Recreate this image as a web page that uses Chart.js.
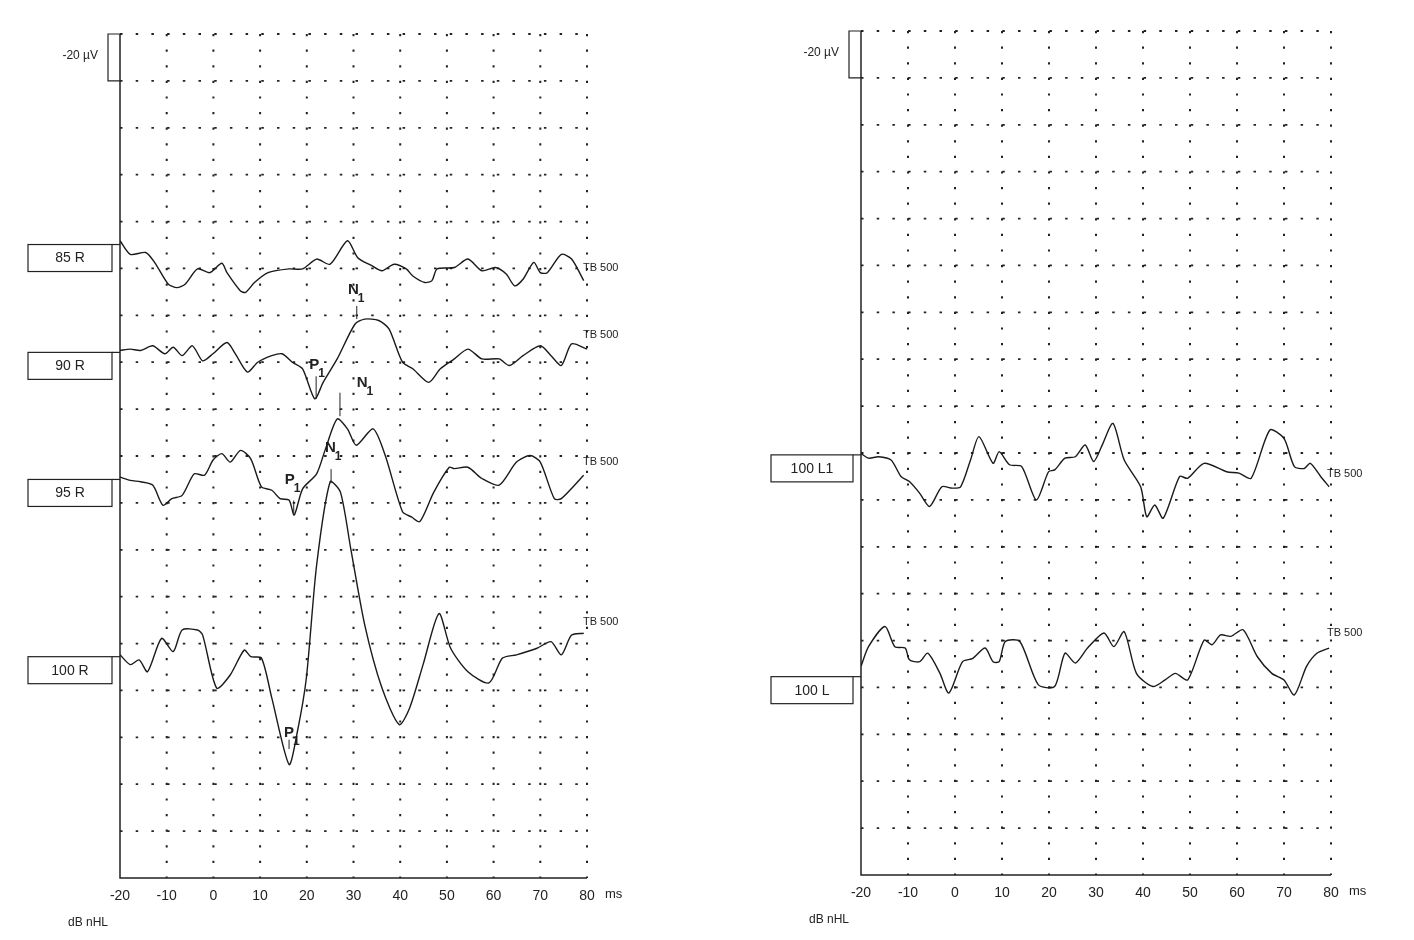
<!DOCTYPE html>
<html>
<head>
<meta charset="utf-8">
<script src="https://cdn.jsdelivr.net/npm/chart.js@4.4.1/dist/chart.umd.min.js"></script>
<style>
  html, body { margin: 0; padding: 0; background: #fff; }
  #wrap { display: flex; width: 1414px; height: 940px; }
  .box { position: relative; width: 707px; height: 940px; }
</style>
</head>
<body>
<div id="wrap">
  <div class="box"><canvas id="left"></canvas></div>
  <div class="box"><canvas id="right"></canvas></div>
</div>
<script>
// x in ms, y in grid rows (0 = top line, 18 = bottom axis; one row = 20 µV)
const xTicks = [-20, -10, 0, 10, 20, 30, 40, 50, 60, 70, 80];

const t85 = [-20,-17.8,-14.5,-12.6,-9.7,-7.8,-6.0,-3.4,-0.8,1.8,2.9,5.8,6.9,8.8,11.7,16.2,19.1,22.1,25.0,28.7,30.9,33.9,36.1,38.7,41.3,42.7,45.3,46.8,47.9,51.6,54.5,57.5,60.4,62.7,64.5,66.3,68.6,70.0,71.5,74.5,76.7,79.3];
const r85 = [4.41,4.70,4.66,4.87,5.33,5.41,5.33,5.01,5.09,4.89,5.09,5.48,5.51,5.30,5.09,5.01,5.01,4.80,4.91,4.41,4.77,4.94,5.05,4.91,5.01,5.16,5.30,5.26,5.01,4.98,4.80,5.05,4.98,5.12,5.37,5.23,4.87,5.09,5.09,4.70,4.80,5.26];

const t90 = [-20,-17.8,-15.6,-13.0,-10.4,-8.6,-6.7,-4.5,-2.3,-0.1,2.9,4.7,7.3,9.5,12.5,14.7,16.9,19.1,21.7,23.5,26.5,30.3,32.4,35.4,37.6,40.5,42.7,46.1,48.6,51.6,54.5,57.5,61.2,63.4,66.3,70.0,72.3,74.5,76.7,80];
const r90 = [6.75,6.72,6.75,6.65,6.82,6.68,6.86,6.65,6.97,6.82,6.58,6.82,7.21,7.00,6.86,6.82,7.00,7.14,7.78,7.43,6.93,6.19,6.08,6.11,6.29,7.00,7.14,7.43,7.14,6.93,6.72,6.93,6.93,7.07,6.86,6.65,6.86,7.07,6.61,6.72];

const t95 = [-20,-17.8,-15.6,-13.0,-10.8,-8.9,-6.7,-4.1,-1.9,-0.1,1.8,3.6,5.8,8.0,10.3,12.5,14.3,16.2,17.3,19.1,22.1,23.9,26.5,28.7,30.6,34.2,36.8,40.5,42.4,44.2,47.2,50.5,51.6,54.5,57.5,61.2,64.9,67.8,70.0,73.0,74.5,79.3];
const r95 = [9.45,9.52,9.55,9.62,10.05,9.91,9.84,9.38,9.41,9.09,8.95,9.13,8.88,9.06,9.66,9.73,9.91,9.94,10.26,9.70,9.38,8.88,8.21,8.42,8.77,8.42,8.99,10.19,10.30,10.40,9.77,9.24,9.27,9.24,9.48,9.62,9.13,8.99,9.13,9.91,9.91,9.41];

const t100 = [-20,-17.8,-15.9,-14.1,-11.1,-8.6,-6.7,-3.4,-2.3,0.7,3.6,6.6,8.0,10.3,12.5,16.2,18.0,19.9,22.1,25.0,27.2,29.4,32.4,36.1,39.8,42.0,44.9,48.3,50.8,54.5,59.0,61.9,64.9,69.3,72.3,74.5,76.7,79.3];
const r100 = [13.24,13.45,13.35,13.60,12.89,13.17,12.71,12.71,12.82,13.95,13.67,13.14,13.28,13.31,14.16,15.58,14.87,13.74,11.33,9.55,9.77,10.97,12.60,13.95,14.73,14.38,13.45,12.36,13.10,13.60,13.84,13.31,13.24,13.10,12.96,13.24,12.82,12.78];

const tL1 = [-20,-18.4,-16.3,-13.6,-11.5,-9.7,-7.5,-5.4,-2.8,-0.6,1.2,3.3,5.1,8.1,9.4,11.6,14.2,17.3,19.9,21.2,23.4,25.6,27.7,29.5,31.2,33.6,36.0,39.5,40.8,42.5,44.3,47.8,49.5,53.0,57.8,60.4,63.0,67.0,70.0,72.2,74.3,75.6,77.8,79.6];
const rL1 = [9.01,9.11,9.08,9.15,9.50,9.61,9.86,10.14,9.72,9.75,9.72,9.15,8.65,9.22,8.97,9.25,9.29,10.0,9.40,9.36,9.11,9.08,8.83,9.18,8.86,8.37,9.15,9.72,10.36,10.11,10.39,9.50,9.54,9.22,9.40,9.43,9.54,8.51,8.69,9.29,9.33,9.22,9.50,9.72];

const tL = [-20,-18.4,-14.9,-12.8,-10.6,-9.7,-7.5,-5.8,-3.2,-1.3,1.6,3.8,6.4,8.1,9.4,10.7,13.8,17.7,21.2,23.4,25.6,28.2,31.7,33.8,36.0,38.6,42.1,44.7,46.9,49.5,53.0,54.7,56.5,58.7,61.3,64.3,67.4,70.0,72.2,74.8,77.0,79.6];
const rL = [13.55,13.13,12.70,13.13,13.16,13.41,13.45,13.27,13.70,14.12,13.45,13.38,13.16,13.45,13.45,13.02,13.02,13.94,13.98,13.27,13.48,13.16,12.84,13.13,12.81,13.70,13.98,13.84,13.70,13.84,12.99,13.09,12.88,12.91,12.77,13.34,13.70,13.84,14.16,13.55,13.27,13.16];

// channel labels: text, box top row, TB 500 row
const leftNames = ['85 R', '90 R', '95 R', '100 R'];
const leftBoxRows = [4.49, 6.79, 9.50, 13.28];
const leftTbRows = [4.98, 6.41, 9.12, 12.53];
const rightNames = ['100 L1', '100 L'];
const rightBoxRows = [9.04, 13.77];
const rightTbRows = [9.45, 12.84];

// peak markers: letter, x ms, row of label, tick x ms, tick row from, to
const leftPeaks = [
  ['N', 28.8, 5.45, 30.7, 5.80, 6.08],
  ['P', 20.5, 7.05, 22.0, 7.30, 7.78],
  ['N', 30.7, 7.43, 27.1, 7.65, 8.15],
  ['P', 15.3, 9.50, 17.2, 9.95, 10.22],
  ['N', 23.9, 8.82, 25.2, 9.28, 9.58],
  ['P', 15.1, 14.90, 16.2, 15.05, 15.25]
];

const FONT = '"Liberation Sans", Arial, sans-serif';
const pts = (t, r) => t.map((x, i) => ({ x, y: r[i] }));
const trace = (t, r) => ({ data: pts(t, r), borderColor: '#1a1a1a', borderWidth: 1.4, pointRadius: 0, tension: 0.25, fill: false });

const panelPlugin = (cfg) => ({
  id: 'panel',
  beforeDatasetsDraw(chart) {
    const { ctx, chartArea: a, scales: { x, y } } = chart;
    ctx.save();
    ctx.strokeStyle = '#222';
    ctx.fillStyle = '#222';
    // dotted grid
    ctx.lineWidth = 1.8;
    ctx.setLineDash([2.5, 13.2]);
    for (let r = 0; r <= 17; r++) {
      const py = y.getPixelForValue(r);
      ctx.beginPath(); ctx.moveTo(a.left, py); ctx.lineTo(a.right, py); ctx.stroke();
    }
    ctx.lineWidth = 2;
    ctx.setLineDash([2.2, 13.4]);
    for (let v = -10; v <= 80; v += 10) {
      const px = x.getPixelForValue(v);
      ctx.beginPath(); ctx.moveTo(px, a.top); ctx.lineTo(px, a.bottom); ctx.stroke();
    }
    ctx.setLineDash([]);
    ctx.lineWidth = 1.5;
    ctx.beginPath();
    ctx.moveTo(a.left, a.top); ctx.lineTo(a.left, a.bottom); ctx.lineTo(a.right, a.bottom);
    ctx.stroke();
    // -20 µV bracket
    const y0 = y.getPixelForValue(0), y1 = y.getPixelForValue(1);
    ctx.lineWidth = 1.2;
    ctx.beginPath();
    ctx.moveTo(a.left, y0); ctx.lineTo(a.left - 12, y0); ctx.lineTo(a.left - 12, y1); ctx.lineTo(a.left, y1);
    ctx.stroke();
    ctx.font = '12px ' + FONT;
    ctx.textAlign = 'right'; ctx.textBaseline = 'middle';
    ctx.fillText('-20 µV', a.left - 22, (y0 + y1) / 2 - 2);
    // x tick labels
    ctx.font = '14px ' + FONT;
    ctx.textAlign = 'center'; ctx.textBaseline = 'top';
    xTicks.forEach(v => ctx.fillText(String(v), x.getPixelForValue(v), a.bottom + 11));
    ctx.font = '13px ' + FONT;
    ctx.textAlign = 'left';
    ctx.fillText('ms', a.right + 18, a.bottom + 10);
    ctx.font = '12px ' + FONT;
    ctx.fillText('dB nHL', a.left - 52, a.bottom + 39);
    // channel boxes
    cfg.names.forEach((n, i) => {
      const top = y.getPixelForValue(cfg.boxRows[i]);
      const bx = a.left - cfg.boxGap - cfg.boxW;
      ctx.lineWidth = 1.2;
      ctx.strokeRect(bx, top, cfg.boxW, 27);
      ctx.beginPath(); ctx.moveTo(bx + cfg.boxW, top); ctx.lineTo(a.left, top); ctx.stroke();
      ctx.font = '14px ' + FONT;
      ctx.textAlign = 'center'; ctx.textBaseline = 'middle';
      ctx.fillText(n, bx + cfg.boxW / 2, top + 14);
      ctx.textAlign = 'left';
      ctx.font = '11px ' + FONT;
      ctx.fillText('TB 500', a.right - 4, y.getPixelForValue(cfg.tbRows[i]));
    });
    // peak labels
    cfg.peaks.forEach(p => {
      const lx = x.getPixelForValue(p[1]), ly = y.getPixelForValue(p[2]);
      ctx.textAlign = 'left'; ctx.textBaseline = 'middle';
      ctx.font = 'bold 15px ' + FONT;
      ctx.fillText(p[0], lx, ly);
      const w = ctx.measureText(p[0]).width;
      ctx.font = 'bold 12px ' + FONT;
      ctx.fillText('1', lx + w - 1, ly + 9);
      const tx = x.getPixelForValue(p[3]);
      ctx.lineWidth = 1;
      ctx.beginPath(); ctx.moveTo(tx, y.getPixelForValue(p[4])); ctx.lineTo(tx, y.getPixelForValue(p[5])); ctx.stroke();
    });
    ctx.restore();
  }
});

function makePanel(id, datasets, padding, cfg) {
  return new Chart(document.getElementById(id), {
    type: 'line',
    data: { datasets },
    options: {
      responsive: true,
      maintainAspectRatio: false,
      animation: false,
      layout: { padding },
      plugins: { legend: { display: false }, tooltip: { enabled: false } },
      scales: {
        x: { type: 'linear', min: -20, max: 80, display: false },
        y: { type: 'linear', min: 0, max: 18, reverse: true, display: false }
      }
    },
    plugins: [panelPlugin(cfg)]
  });
}

makePanel('left',
  [trace(t85, r85), trace(t90, r90), trace(t95, r95), trace(t100, r100)],
  { left: 120, right: 120, top: 34, bottom: 62 },
  { names: leftNames, boxRows: leftBoxRows, tbRows: leftTbRows, peaks: leftPeaks, boxW: 84, boxGap: 8 });

makePanel('right',
  [trace(tL1, rL1), trace(tL, rL)],
  { left: 154, right: 83, top: 31, bottom: 65 },
  { names: rightNames, boxRows: rightBoxRows, tbRows: rightTbRows, peaks: [], boxW: 82, boxGap: 8 });
</script>
</body>
</html>
